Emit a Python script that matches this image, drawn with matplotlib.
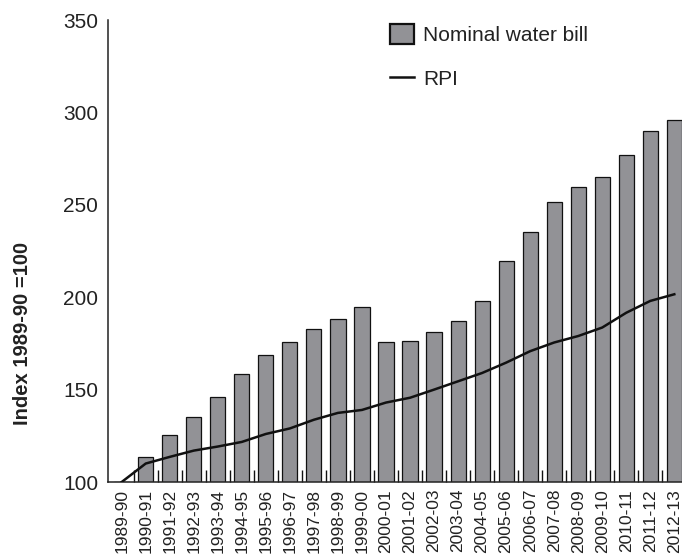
import numpy as np
import matplotlib.pyplot as plt
from matplotlib.ticker import FixedLocator

plt.rcParams["font.family"] = ["Liberation Sans", "DejaVu Sans"]

# Дані
years = ["1989-90", "1990-91", "1991-92", "1992-93", "1993-94", "1994-95",
         "1995-96", "1996-97", "1997-98", "1998-99", "1999-00", "2000-01",
         "2001-02", "2002-03", "2003-04", "2004-05", "2005-06", "2006-07",
         "2007-08", "2008-09", "2009-10", "2010-11", "2011-12", "2012-13"]
water_bill = [100, 113.6, 125.5, 135, 146, 158.7, 168.5, 175.5, 182.6, 188,
              194.7, 175.5, 176.3, 181, 187, 198, 219.6, 235.3, 251.6, 259.8,
              265.2, 277.2, 289.7, 295.7]
rpi = [100, 110, 113.6, 117, 119.2, 121.7, 126, 129, 133.7, 137.4,
       139, 143, 145.6, 150, 154.5, 159, 164.6, 170.8, 175.5, 179,
       183.6, 191.6, 198, 201.6]

x = np.arange(len(years))

fig = plt.figure(figsize=(6.82, 5.55), dpi=100)
ax = fig.add_axes([0.158, 0.1315, 0.842, 0.8324])

bars = ax.bar(x, water_bill, width=0.63, color="#929296", edgecolor="#111111",
              linewidth=0.9, label="Nominal water bill", zorder=2)
line, = ax.plot(x, rpi, color="#111111", linewidth=1.8, label="RPI", zorder=3)

ax.set_xlim(-0.58, 23.32)
ax.set_ylim(100, 350)
ax.set_yticks([100, 150, 200, 250, 300, 350])

# Підписи років по центру стовпців, штрихи між стовпцями
ax.set_xticks(x)
ax.set_xticklabels(years, rotation=90, fontsize=12.5, color="#222222")
ax.xaxis.set_minor_locator(FixedLocator(x[:-1] + 0.5))
ax.tick_params(axis="x", which="major", length=0, pad=5)
ax.tick_params(axis="x", which="minor", direction="in", length=9,
               width=1.0, color="#111111")
ax.tick_params(axis="y", length=0, pad=7, labelsize=15, labelcolor="#222222")

for side in ["top", "right"]:
    ax.spines[side].set_visible(False)
for side in ["left", "bottom"]:
    ax.spines[side].set_linewidth(1.1)
    ax.spines[side].set_color("#222222")

fig.text(0.033, 0.40, "Index 1989-90 =100", rotation=90, fontsize=14.5,
         fontweight="bold", ha="center", va="center", color="#222222")

leg = ax.legend([bars, line], ["Nominal water bill", "RPI"],
                loc="upper left", bbox_to_anchor=(390 / 682, 1 - 24 / 555),
                bbox_transform=fig.transFigure, frameon=False, fontsize=15,
                borderpad=0, borderaxespad=0, handlelength=1.15,
                handleheight=1.1, handletextpad=0.45, labelspacing=1.1)
for t in leg.get_texts():
    t.set_color("#222222")
leg.legend_handles[0].set_linewidth(1.6)

fig.savefig("out.png", dpi=100)
